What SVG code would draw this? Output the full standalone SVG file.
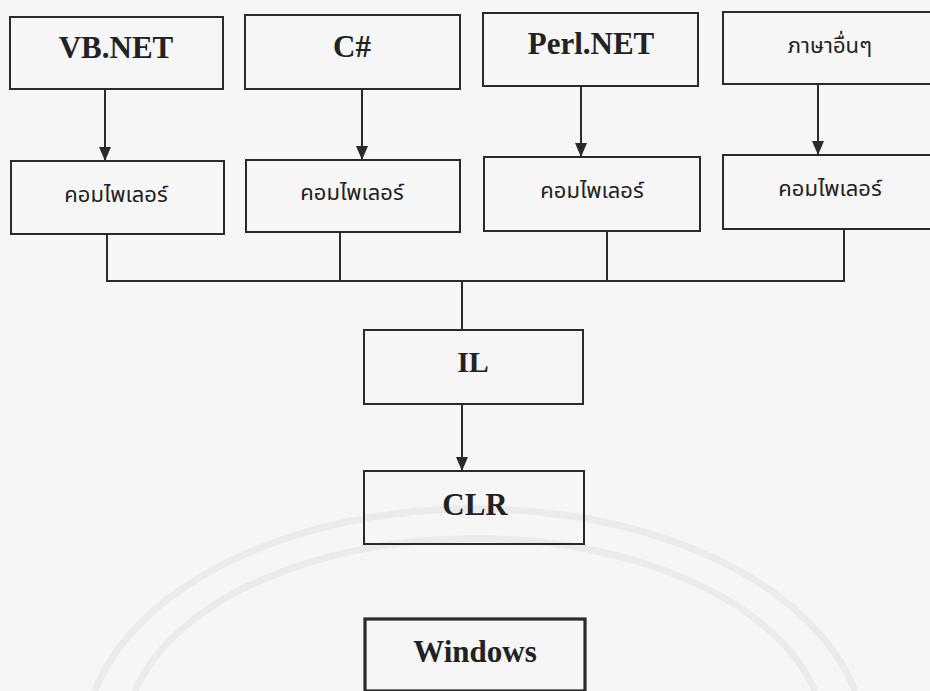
<svg xmlns="http://www.w3.org/2000/svg" width="930" height="691" viewBox="0 0 930 691">
<style>
.box{fill:none;stroke:#2a2a2a;stroke-width:2}
.wbox{fill:none;stroke:#2a2a2a;stroke-width:3.2}
.en{font-family:"Liberation Serif","Times New Roman",serif;font-weight:bold;fill:#222;text-anchor:middle}
.th{font-family:"Liberation Serif","Noto Sans Thai","Noto Serif Thai",serif;fill:#222;text-anchor:middle}
.ln{fill:none;stroke:#2a2a2a;stroke-width:2}
.wm{fill:none;stroke:#ebebeb;stroke-width:7}
</style>
<defs>
<marker id="ah" viewBox="0 0 14 12" refX="14" refY="6" markerWidth="14" markerHeight="12" markerUnits="userSpaceOnUse" orient="auto">
<path d="M0,0 L14,6 L0,12 Z" fill="#2a2a2a"/>
</marker>
</defs>
<rect width="930" height="691" fill="#f6f6f6"/>
<g id="watermark">
<path class="wm" d="M95,691 A390,235 0 0 1 855,691"/>
<path class="wm" d="M135,691 A350,200 0 0 1 815,691"/>
</g>
<g id="connectors">
<line class="ln" x1="105" y1="89" x2="105" y2="161" marker-end="url(#ah)"/>
<line class="ln" x1="362" y1="89" x2="362" y2="160" marker-end="url(#ah)"/>
<line class="ln" x1="581" y1="86" x2="581" y2="157" marker-end="url(#ah)"/>
<line class="ln" x1="818" y1="84" x2="818" y2="155" marker-end="url(#ah)"/>
<path class="ln" d="M107,234 V281 H844 V229"/>
<line class="ln" x1="340" y1="232" x2="340" y2="281"/>
<line class="ln" x1="607" y1="231" x2="607" y2="281"/>
<line class="ln" x1="462" y1="281" x2="462" y2="330"/>
<line class="ln" x1="462" y1="404" x2="462" y2="471" marker-end="url(#ah)"/>
</g>
<g id="vbnet"><rect class="box" x="10" y="17" width="213" height="72"/><text class="en" x="116" y="58" font-size="31">VB.NET</text></g>
<g id="csharp"><rect class="box" x="245" y="15" width="215" height="74"/><text class="en" x="352" y="57" font-size="31">C#</text></g>
<g id="perlnet"><rect class="box" x="483" y="13" width="215" height="73"/><text class="en" x="591" y="54" font-size="31">Perl.NET</text></g>
<g id="other"><rect class="box" x="723" y="12" width="212" height="72"/><text class="th" x="830" y="53" font-size="22">ภาษาอื่นๆ</text></g>
<g id="comp1"><rect class="box" x="11" y="161" width="213" height="73"/><text class="th" x="116" y="202" font-size="22">คอมไพเลอร์</text></g>
<g id="comp2"><rect class="box" x="246" y="160" width="214" height="72"/><text class="th" x="352" y="200" font-size="22">คอมไพเลอร์</text></g>
<g id="comp3"><rect class="box" x="484" y="157" width="216" height="74"/><text class="th" x="592" y="198" font-size="22">คอมไพเลอร์</text></g>
<g id="comp4"><rect class="box" x="723" y="155" width="210" height="74"/><text class="th" x="830" y="196" font-size="22">คอมไพเลอร์</text></g>
<g id="il"><rect class="box" x="364" y="330" width="219" height="74"/><text class="en" x="473" y="372" font-size="30">IL</text></g>
<g id="clr"><rect class="box" x="364" y="471" width="220" height="73"/><text class="en" x="475" y="515" font-size="31">CLR</text></g>
<g id="windows"><rect class="wbox" x="365" y="619" width="220" height="72"/><text class="en" x="475" y="662" font-size="31">Windows</text></g>
</svg>
